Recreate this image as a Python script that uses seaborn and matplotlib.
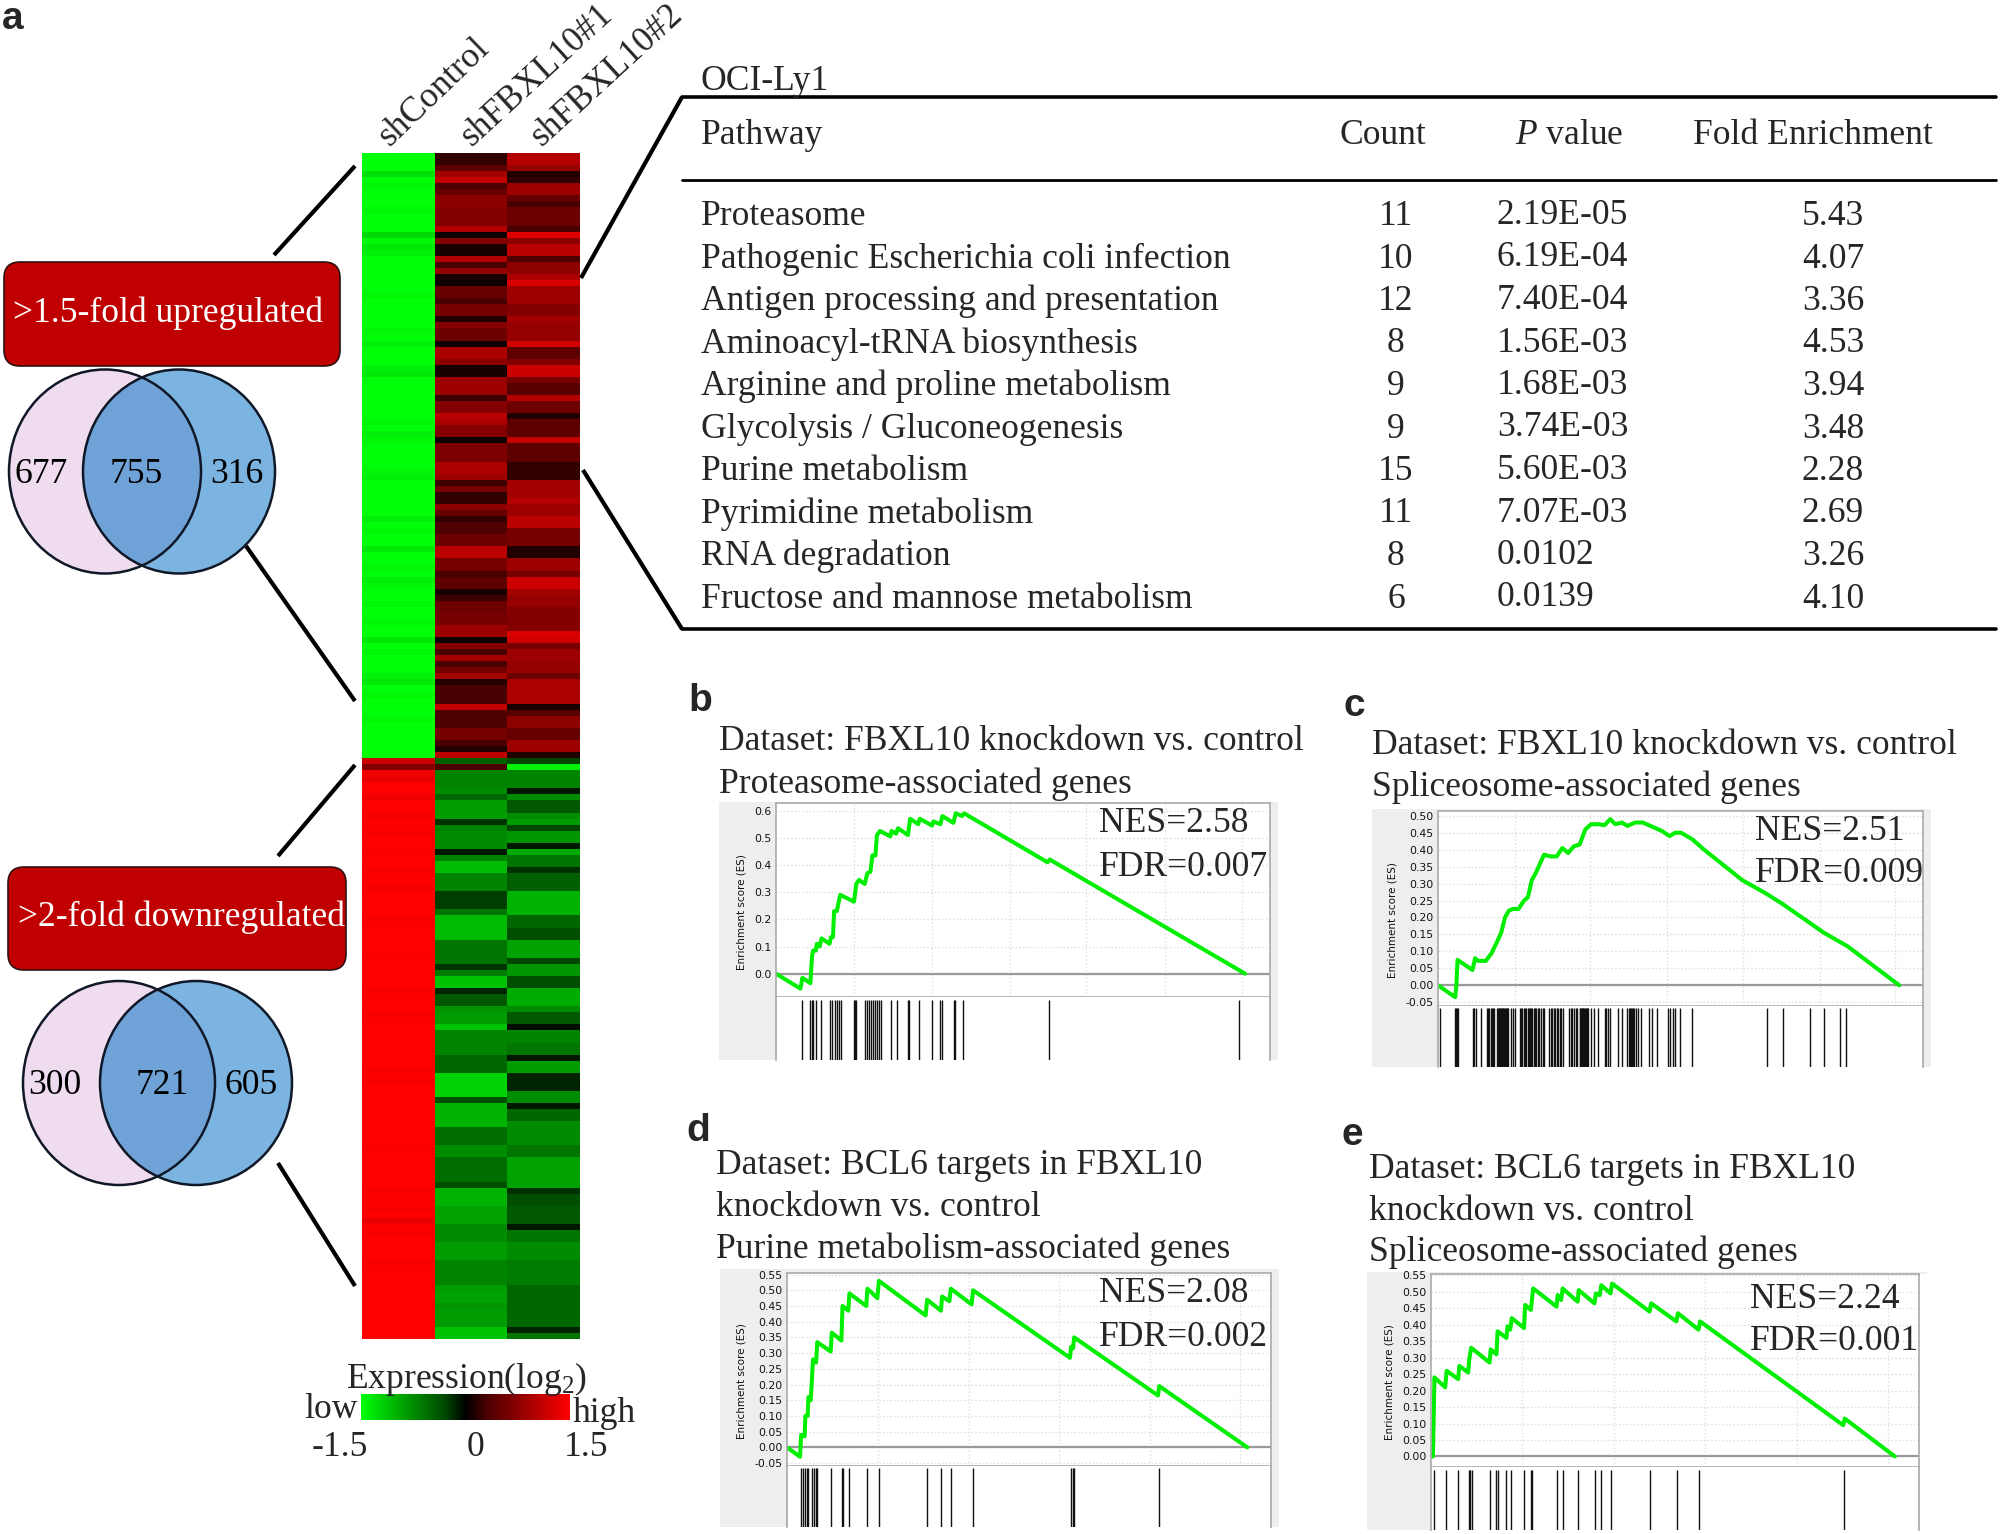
import matplotlib
matplotlib.use("Agg")
import matplotlib.pyplot as plt
import numpy as np
import seaborn as sns
from matplotlib.colors import LinearSegmentedColormap
from matplotlib.patches import Ellipse, FancyBboxPatch, Rectangle

# heatmap, log2 expression, rows top to bottom
up_control = [-1.5, -1.5, -1.5, -1.3, -1.5, -1.45, -1.5, -1.5, -1.5, -1.45, -1.5, -1.5, -1.5, -1.25, -1.45, -1.35, -1.4, -1.5, -1.5, -1.5,
              -1.5, -1.5, -1.5, -1.45, -1.5, -1.5, -1.5, -1.5, -1.5, -1.45, -1.5, -1.4, -1.5, -1.5, -1.5, -1.4, -1.35, -1.5, -1.5, -1.5,
              -1.5, -1.5, -1.5, -1.5, -1.45, -1.5, -1.4, -1.45, -1.5, -1.5, -1.5, -1.5, -1.45, -1.4, -1.5, -1.5, -1.5, -1.5, -1.5, -1.5,
              -1.4, -1.5, -1.45, -1.5, -1.5, -1.35, -1.5, -1.5, -1.45, -1.5, -1.4, -1.45, -1.5, -1.5, -1.45, -1.5, -1.5, -1.45, -1.5, -1.5,
              -1.35, -1.5, -1.45, -1.5, -1.5, -1.5, -1.4, -1.35, -1.5, -1.45, -1.5, -1.5, -1.5, -1.45, -1.5, -1.5, -1.5, -1.5, -1.5, -1.5]
up_sh1 = [.2, .2, .45, .9, 1.1, .35, .5, .75, .75, .7, .7, .7, 1.0, .05, .7, .1, .1, 1.0, .3, .8,
          .1, .05, .5, .5, .3, .6, .6, .15, .7, .55, .55, .05, .95, .95, .75, .1, .1, .85, .85, .85,
          .25, .7, .7, 1.05, .95, .7, .7, .05, .65, .65, .65, .95, .95, .85, .25, .6, .2, .2, .75, .5,
          .2, .35, .35, .55, .55, 1.05, 1.05, .6, .6, .3, .45, .45, .1, .25, .55, .55, .6, .6, .85, .85,
          .05, .7, .3, .9, .3, .6, .9, .15, .3, .3, .3, 1.1, .35, .35, .35, .6, .6, .3, .15, 1.05]
up_sh2 = [1.0, 1.0, .8, .15, .2, .85, .85, .5, .3, .55, .55, .55, .3, 1.3, .75, 1.05, 1.05, .35, .75, .75,
          .95, 1.25, .85, .85, .85, .7, .7, .9, .8, .8, .8, 1.2, .45, .45, .7, 1.15, 1.15, .6, .4, .4,
          1.0, .55, .55, .15, .45, .45, .45, 1.1, .45, .45, .45, .2, .2, .2, .9, .9, .9, 1.0, .85, .85,
          1.05, 1.05, .6, .6, .6, .15, .15, .85, .85, .6, 1.15, 1.15, .9, .8, .8, .7, .7, .7, .7, 1.25,
          1.2, .6, .85, .85, .8, .8, .55, .95, .95, .95, .95, .1, .4, .75, .75, .5, .5, .85, .85, .15]
down_control = [1.15, .7, 1.4, 1.35, 1.5, 1.5, 1.4, 1.5, 1.5, 1.45, 1.5, 1.5, 1.45, 1.5, 1.5, 1.45, 1.5, 1.5, 1.45, 1.5,
                1.5, 1.45, 1.5, 1.5, 1.5, 1.5, 1.45, 1.5, 1.5, 1.5, 1.5, 1.5, 1.45, 1.5, 1.5, 1.5, 1.5, 1.5, 1.45, 1.5,
                1.5, 1.5, 1.45, 1.5, 1.5, 1.5, 1.5, 1.5, 1.5, 1.5, 1.5, 1.45, 1.5, 1.45, 1.5, 1.5, 1.5, 1.5, 1.5, 1.5,
                1.5, 1.5, 1.5, 1.5, 1.45, 1.5, 1.5, 1.5, 1.5, 1.5, 1.5, 1.45, 1.5, 1.5, 1.45, 1.5, 1.35, 1.5, 1.45, 1.5,
                1.5, 1.5, 1.5, 1.45, 1.5, 1.5, 1.5, 1.5, 1.5, 1.5, 1.5, 1.5, 1.5, 1.5, 1.5, 1.5]
down_sh1 = [-.45, .3, -.7, -.7, -.7, -.75, -.5, -.85, -.85, -.85, -.2, -.7, -.75, -.75, -.75, -.1, -.7, -1.05, -1.05, -.7,
            -.7, -.7, -.25, -.25, -.25, -.6, -1.05, -1.05, -1.05, -1.05, -.6, -.6, -.6, -.6, -.2, -.65, -1.1, -1.1, -.15, -.4,
            -.4, -.8, -.85, -.85, -1.1, -.7, -.7, -.7, -.7, -.5, -.5, -.5, -1.2, -1.2, -1.2, -1.2, -.35, -1.0, -1.0, -1.0,
            -1.0, -.55, -.55, -.55, -.75, -.75, -.55, -.55, -.55, -.55, -.35, -1.0, -1.0, -1.0, -.9, -.9, -.9, -.75, -.75, -.75,
            -.85, -.85, -.85, -.7, -.7, -.7, -.7, -.85, -.9, -.9, -.8, -.85, -.85, -.85, -1.1, -1.1]
down_sh2 = [-.3, -1.4, -.7, -.7, -.7, -.1, -.75, -.4, -.4, -.75, -.85, -.3, -.8, -.8, -.1, -.95, -.6, -.6, -.2, -.45,
            -.45, -.45, -1.0, -1.0, -1.0, -1.0, -.5, -.5, -.35, -.35, -.9, -.9, -.9, -.3, -.8, -.8, -.35, -.35, -.95, -.95,
            -.95, -.75, -.4, -.4, -.05, -.7, -.7, -.6, -.6, -.1, -.85, -.85, -.15, -.15, -.15, -.75, -.75, -.1, -.5, -.5,
            -.75, -.75, -.75, -.75, -.6, -.6, -.9, -.9, -.9, -.9, -.9, -.2, -.35, -.35, -.4, -.4, -.4, -.1, -.6, -.6,
            -.75, -.75, -.75, -.65, -.65, -.65, -.65, -.5, -.5, -.5, -.5, -.5, -.5, -.5, -.15, -.6]
samples = ["shControl", "shFBXL10#1", "shFBXL10#2"]

# pathway table
pathways = ["Proteasome", "Pathogenic Escherichia coli infection", "Antigen processing and presentation",
            "Aminoacyl-tRNA biosynthesis", "Arginine and proline metabolism", "Glycolysis / Gluconeogenesis",
            "Purine metabolism", "Pyrimidine metabolism", "RNA degradation", "Fructose and mannose metabolism"]
counts = [11, 10, 12, 8, 9, 9, 15, 11, 8, 6]
p_values = ["2.19E-05", "6.19E-04", "7.40E-04", "1.56E-03", "1.68E-03", "3.74E-03", "5.60E-03", "7.07E-03", "0.0102", "0.0139"]
fold_enrichment = ["5.43", "4.07", "3.36", "4.53", "3.94", "3.48", "2.28", "2.69", "3.26", "4.10"]

# GSEA running scores, rank in read-off units
b_rank = [0, 64, 69, 90, 94, 97, 104, 107, 114, 119, 140, 144, 149, 152, 159, 162, 168, 204, 210, 217, 232, 239, 247,
          252, 260, 264, 272, 299, 302, 314, 319, 345, 351, 372, 376, 408, 412, 430, 435, 464, 470, 487, 492, 710, 716, 1227]
b_es = [0, -.055, -.015, -.035, .06, .085, .085, .11, .10, .13, .11, .135, .135, .23, .23, .25, .29, .265, .33, .345, .33, .37, .375,
        .435, .435, .51, .525, .505, .525, .515, .535, .51, .57, .55, .57, .545, .56, .55, .58, .555, .59, .58, .59, .41, .42, 0]
b_hits = [67, 90, 93, 96, 105, 117, 140, 147, 154, 160, 165, 169, 204, 207, 210, 234, 239, 244, 249, 254, 260, 265, 270, 275,
          302, 316, 345, 349, 374, 408, 430, 433, 465, 468, 488, 713, 1210]
b_grid = [205, 407, 612, 812, 1017, 1220]

c_rank = [0, 45, 48, 51, 90, 97, 105, 125, 140, 155, 165, 175, 185, 195, 210, 225, 235, 245, 255, 265, 277, 295, 310, 325, 340,
          355, 370, 385, 400, 420, 435, 450, 463, 480, 495, 515, 535, 565, 585, 605, 620, 635, 665, 695, 795, 858, 900, 970, 1008, 1070, 1205]
c_es = [0, -.035, 0, .075, .045, .08, .072, .072, .095, .13, .155, .2, .22, .225, .225, .25, .26, .31, .33, .355, .385, .38, .38, .405, .39,
        .41, .415, .46, .475, .475, .472, .49, .475, .48, .47, .48, .48, .465, .455, .44, .45, .45, .43, .4, .31, .27, .24, .185, .155, .115, 0]
c_hits = [5, 45, 47, 49, 51, 92, 95, 98, 113, 127, 130, 133, 138, 141, 144, 147, 155, 157, 159, 161, 163, 165, 167, 169, 171, 173, 175, 177, 179, 181, 183,
          192, 197, 202, 213, 217, 220, 224, 227, 231, 234, 237, 240, 243, 246, 250, 253, 256, 262, 265, 268, 273, 277,
          290, 294, 298, 302, 306, 310, 314, 318, 322, 326, 343, 347, 351, 356, 360, 364, 370, 372, 374, 376, 378, 380, 382, 384, 386, 388, 390, 392,
          400, 407, 417, 435, 440, 445, 450, 470, 480, 495, 498, 501, 504, 507, 510, 513, 518, 523, 530, 552, 558, 573,
          601, 607, 613, 620, 631, 663, 859, 900, 971, 1008, 1049, 1067]
c_grid = [200, 398, 598, 798, 998, 1195]

d_rank = [0, 34, 37, 46, 48, 54, 56, 62, 68, 76, 79, 114, 117, 142, 145, 160, 163, 207, 210, 236, 240, 362, 366, 402, 405, 424, 428,
          482, 486, 739, 742, 747, 750, 969, 972, 1202]
d_es = [0, -.03, .04, .035, .10, .10, .16, .15, .28, .27, .335, .305, .365, .34, .45, .435, .49, .45, .505, .475, .53, .42, .47, .435, .48, .465, .505,
        .455, .50, .285, .32, .315, .35, .165, .195, 0]
d_hits = [37, 42, 47, 52, 56, 66, 70, 75, 79, 114, 143, 146, 163, 210, 239, 366, 403, 427, 485, 742, 746, 749, 971]
d_grid = [237, 474, 710, 947, 1184]

e_rank = [0, 5, 7, 9, 37, 41, 71, 74, 97, 100, 105, 153, 156, 171, 174, 197, 200, 207, 211, 243, 246, 261, 264, 267, 328, 331, 340, 344, 383, 386,
          427, 431, 441, 445, 469, 473, 571, 575, 641, 645, 699, 703, 1077, 1081, 1212]
e_es = [0, 0, .12, .24, .21, .26, .235, .275, .255, .295, .33, .285, .325, .31, .38, .36, .395, .385, .42, .39, .46, .445, .48, .51, .455, .49, .475, .51, .47, .505,
        .465, .495, .49, .52, .495, .525, .44, .465, .41, .435, .385, .41, .095, .115, 0]
e_hits = [8, 39, 71, 98, 102, 106, 153, 171, 174, 197, 209, 244, 261, 264, 329, 344, 385, 429, 443, 470, 572, 643, 701, 1078]
e_grid = [239, 478, 716, 955, 1193]

b_ticks = [0.0, 0.1, 0.2, 0.3, 0.4, 0.5, 0.6]
c_ticks = [-0.05, 0.0, 0.05, 0.1, 0.15, 0.2, 0.25, 0.3, 0.35, 0.4, 0.45, 0.5]
d_ticks = [-0.05, 0.0, 0.05, 0.1, 0.15, 0.2, 0.25, 0.3, 0.35, 0.4, 0.45, 0.5, 0.55]
e_ticks = [0.0, 0.05, 0.1, 0.15, 0.2, 0.25, 0.3, 0.35, 0.4, 0.45, 0.5, 0.55]

W, H = 2000, 1534
SERIF = "Liberation Serif"
FS = 25.6

sns.set_theme(style="white")
plt.rcParams["font.family"] = SERIF
plt.rcParams["mathtext.fontset"] = "custom"
plt.rcParams["mathtext.rm"] = SERIF
plt.rcParams["mathtext.it"] = SERIF + ":italic"

fig = plt.figure(figsize=(W / 100, H / 100), dpi=100, facecolor="white")


def px_axes(x0, y0, x1, y1, **kw):
    # axes placed by pixel box, y counted from the top
    return fig.add_axes([x0 / W, 1 - y1 / H, (x1 - x0) / W, (y1 - y0) / H], **kw)


# gray frames go under everything, text and lines over everything
under = px_axes(0, 0, W, H, zorder=0)
under.set_xlim(0, W)
under.set_ylim(H, 0)
under.axis("off")
over = px_axes(0, 0, W, H, zorder=10)
over.set_xlim(0, W)
over.set_ylim(H, 0)
over.axis("off")
over.patch.set_alpha(0)


def put(x, y, s, ha="left", **kw):
    over.text(x, y + 4, s, ha=ha, va="center", fontsize=FS, **kw)


# heatmap
matrix = np.column_stack([up_control + down_control, up_sh1 + down_sh1, up_sh2 + down_sh2])
green_red = LinearSegmentedColormap.from_list(
    "gbr", [(0, "#00ff08"), (0.25, "#008c00"), (0.4, "#004800"), (0.5, "#000000"),
            (0.6, "#480000"), (0.75, "#8c0000"), (1, "#ff0000")])
hm_ax = px_axes(362, 153, 580, 1339, zorder=2)
cbar_ax = px_axes(361, 1394, 570, 1420, zorder=2)
sns.heatmap(matrix, cmap=green_red, vmin=-1.5, vmax=1.5, ax=hm_ax, cbar_ax=cbar_ax,
            cbar_kws={"orientation": "horizontal"}, xticklabels=False, yticklabels=False)
cbar_ax.set_xticks([])
hm_ax.collections[0].colorbar.outline.set_visible(False)

for name, xa, ang in zip(samples, [395, 477, 547], [44, 42.5, 42.5]):
    over.text(xa, 153, name, rotation=ang, rotation_mode="anchor", ha="left", va="bottom", fontsize=FS)

put(466, 1375, "Expression(log$_{2}$)", ha="center")
put(358, 1406, "low", ha="right")
put(573, 1409, "high")
for lab, xt in zip(["-1.5", "0", "1.5"], [340, 475, 586]):
    put(xt, 1443, lab, ha="center")

# connector lines
for (xa, ya, xb, yb) in [(355, 166, 274, 255), (246, 546, 355, 701), (355, 765, 278, 856), (278, 1163, 355, 1286),
                         (581, 278, 682, 97), (583, 470, 682, 629)]:
    over.plot([xa, xb], [ya, yb], color="black", lw=3, solid_capstyle="butt")

# red boxes
for (x0, y0, x1, y1, label, dx) in [(4, 262, 340, 366, ">1.5-fold upregulated", -4), (8, 867, 346, 970, ">2-fold downregulated", 4)]:
    over.add_patch(FancyBboxPatch((x0 + 14, y0 + 14), x1 - x0 - 28, y1 - y0 - 28, boxstyle="round,pad=14,rounding_size=16",
                                  fc="#C00000", ec="#301010", lw=1.2, mutation_aspect=1))
    put((x0 + x1) / 2 + dx, (y0 + y1) / 2 - 5, label, ha="center", color="white")

# venn diagrams
for (cxa, cxb, cy, nums, num_x) in [(105, 179, 471.5, ["677", "755", "316"], [41, 136, 237]),
                                    (119, 196, 1083, ["300", "721", "605"], [55, 162, 251])]:
    over.add_patch(Ellipse((cxa, cy), 192, 204, fc="#EFDDEF", ec="none"))
    over.add_patch(Ellipse((cxb, cy), 192, 204, fc="#7BB4E1", ec="none"))
    overlap = Ellipse((cxa, cy), 192, 204, fc="#6FA3D8", ec="none")
    over.add_patch(overlap)
    overlap.set_clip_path(Ellipse((cxb, cy), 192, 204, transform=over.transData))
    over.add_patch(Ellipse((cxa, cy), 192, 204, fc="none", ec="#101828", lw=1.8))
    over.add_patch(Ellipse((cxb, cy), 192, 204, fc="none", ec="#101828", lw=1.8))
    for lab, xt in zip(nums, num_x):
        put(xt, cy - 1, lab, ha="center", color="black")

# pathway table
put(701, 78, "OCI-Ly1")
over.plot([682, 1996], [97, 97], color="black", lw=2.6)
over.plot([682, 1996], [180, 180], color="black", lw=2)
over.plot([682, 1996], [629, 629], color="black", lw=2.6)
put(701, 132, "Pathway")
put(1383, 132, "Count", ha="center")
put(1569, 132, "$\\mathit{P}$ value", ha="center")
put(1813, 132, "Fold Enrichment", ha="center")
for i in range(len(pathways)):
    yt = 212.5 + i * 42.5
    put(701, yt, pathways[i])
    put(1396, yt, str(counts[i]), ha="center")
    put(1497, yt - 1, p_values[i])
    put(1833, yt, fold_enrichment[i], ha="center")


def gsea_panel(box, bg, rank, es, hits, grid, ticks, ylim, width, fmt):
    x0, y0, ysep, x1, y1 = box
    under.add_patch(Rectangle((bg[0], bg[1]), bg[2] - bg[0], y1 - bg[1], fc="#EEEEEE", ec="none"))
    top = px_axes(x0, y0, x1, ysep, zorder=3)
    sns.lineplot(x=rank, y=es, ax=top, color="#00EE00", lw=2.9, estimator=None, sort=False)
    top.axhline(0, color="#999999", lw=1.6, zorder=1)
    top.set_xlim(0, width)
    top.set_ylim(*ylim)
    top.set_xticks(grid)
    top.set_xticklabels([])
    top.set_yticks(ticks)
    top.set_yticklabels([fmt % t for t in ticks], family="DejaVu Sans", fontsize=7.8, color="#111111")
    top.grid(True, color="#DDDDDD", ls=":", lw=1)
    top.tick_params(length=0, pad=3)
    top.set_ylabel("Enrichment score (ES)", family="DejaVu Sans", fontsize=7.5, color="#111111", labelpad=6, y=0.44)
    for sp in top.spines.values():
        sp.set_color("#AAAAAA")
        sp.set_linewidth(1.2)

    low = px_axes(x0, ysep, x1, y1, zorder=3)
    low.set_xlim(0, width)
    low.set_ylim(0, 1)
    sns.rugplot(x=hits, ax=low, height=0.96, color="#111111", lw=1.1)
    low.set_xticks([])
    low.set_yticks([])
    low.spines["top"].set_visible(False)
    low.spines["bottom"].set_visible(False)
    low.spines["left"].set_color("#AAAAAA")
    low.spines["right"].set_color("#AAAAAA")


gsea_panel((776, 803, 997, 1270, 1060), (719, 802, 1278), b_rank, b_es, b_hits, b_grid, b_ticks, (-0.0857, 0.628), 1292, "%.1f")
gsea_panel((1438, 811, 1006, 1923, 1067), (1372, 809, 1931), c_rank, c_es, c_hits, c_grid, c_ticks, (-0.061, 0.514), 1267, "%.2f")
gsea_panel((787, 1273, 1466, 1271, 1527), (720, 1269, 1279), d_rank, d_es, d_hits, d_grid, d_ticks, (-0.0594, 0.555), 1264, "%.2f")
gsea_panel((1431, 1274, 1467, 1919, 1530), (1367, 1272, 1919), e_rank, e_es, e_hits, e_grid, e_ticks, (-0.032, 0.554), 1275, "%.2f")
under.add_patch(Rectangle((1919, 1272), 8, 2, fc="#EEEEEE", ec="none"))

# panel text
titles = [(719, [737, 780], ["Dataset: FBXL10 knockdown vs. control", "Proteasome-associated genes"]),
          (1372, [741, 783], ["Dataset: FBXL10 knockdown vs. control", "Spliceosome-associated genes"]),
          (716, [1161, 1203, 1245], ["Dataset: BCL6 targets in FBXL10", "knockdown vs. control", "Purine metabolism-associated genes"]),
          (1369, [1165, 1207, 1248], ["Dataset: BCL6 targets in FBXL10", "knockdown vs. control", "Spliceosome-associated genes"])]
for xt, ys, lines in titles:
    for yt, line in zip(ys, lines):
        put(xt, yt, line)

for xt, yt1, yt2, nes, fdr in [(1099, 820, 863, "NES=2.58", "FDR=0.007"), (1755, 827, 870, "NES=2.51", "FDR=0.009"),
                               (1099, 1290, 1333, "NES=2.08", "FDR=0.002"), (1750, 1295, 1337, "NES=2.24", "FDR=0.001")]:
    put(xt, yt1, nes)
    put(xt, yt2, fdr)

for lab, xt, yt in [("a", 13, 19), ("b", 700, 701), ("c", 1354, 706), ("d", 698, 1131), ("e", 1352, 1135)]:
    over.text(xt, yt, lab, ha="center", va="center", fontsize=28, fontweight="bold", family="Liberation Sans")

fig.savefig("out.png", dpi=100)
